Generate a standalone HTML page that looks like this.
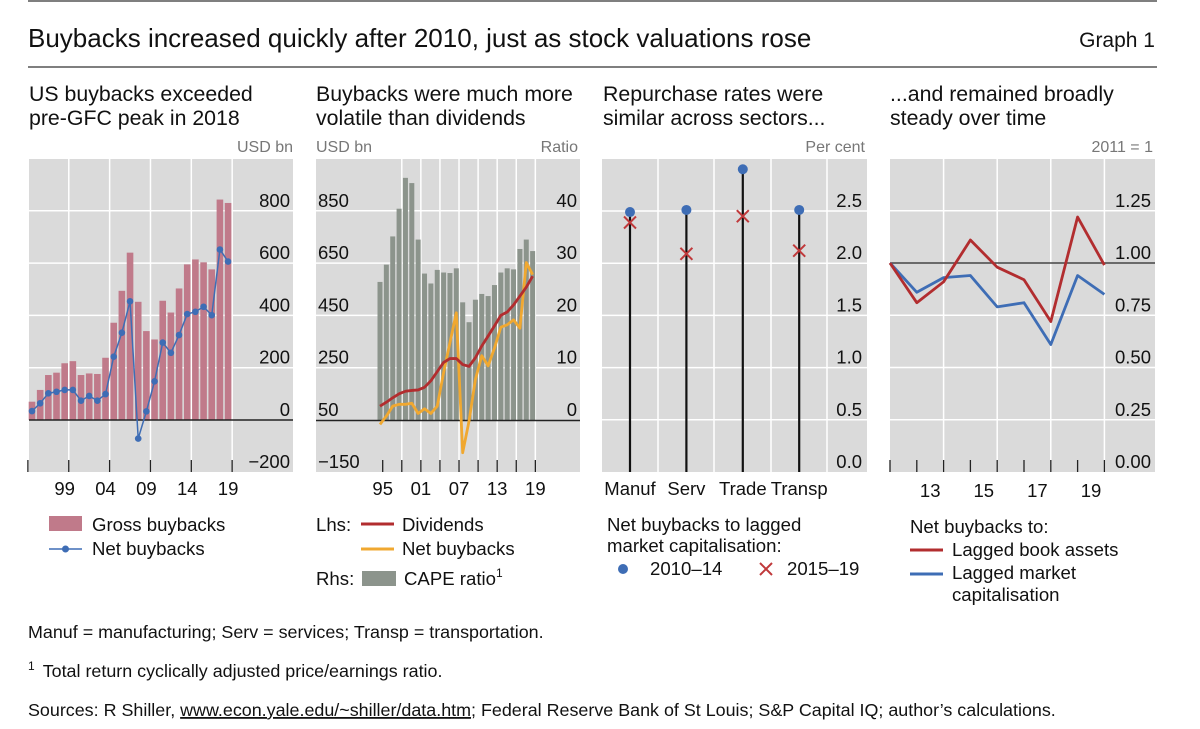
<!DOCTYPE html>
<html><head><meta charset="utf-8"><style>
body{margin:0;background:#fff;}
svg{display:block;font-family:"Liberation Sans",sans-serif;}
</style></head><body>
<svg id="c" width="1200" height="729" viewBox="0 0 1200 729" xmlns="http://www.w3.org/2000/svg">
<line x1="28" y1="1" x2="1157" y2="1" stroke="#555" stroke-width="1.5"/>
<text x="28" y="47" font-size="26" fill="#111">Buybacks increased quickly after 2010, just as stock valuations rose</text>
<text x="1155" y="47" font-size="21" fill="#111" text-anchor="end">Graph 1</text>
<line x1="28" y1="67" x2="1157" y2="67" stroke="#555" stroke-width="1.5"/>
<g font-size="21.3" fill="#111">
<text x="29" y="101">US buybacks exceeded</text>
<text x="29" y="125">pre-GFC peak in 2018</text>
<text x="316" y="101">Buybacks were much more</text>
<text x="316" y="125">volatile than dividends</text>
<text x="603" y="101">Repurchase rates were</text>
<text x="603" y="125">similar across sectors...</text>
<text x="890" y="101">...and remained broadly</text>
<text x="890" y="125">steady over time</text>
</g>
<g font-size="16" fill="#777">
<text x="293" y="152" text-anchor="end">USD bn</text>
<text x="316" y="152">USD bn</text>
<text x="578" y="152" text-anchor="end">Ratio</text>
<text x="865" y="152" text-anchor="end">Per cent</text>
<text x="1153" y="152" text-anchor="end">2011 = 1</text>
</g>
<g id="p1"></g><g id="p2"></g><g id="p3"></g><g id="p4"></g>
<g font-size="18.6" fill="#111">
<rect x="49" y="516" width="33" height="15" fill="#c07a8a"/>
<text x="92" y="531">Gross buybacks</text>
<line x1="49" y1="549" x2="82" y2="549" stroke="#3e6db5" stroke-width="1.5"/>
<circle cx="65.5" cy="549" r="3.5" fill="#3e6db5"/>
<text x="92" y="555">Net buybacks</text>
<text x="316" y="531">Lhs:</text>
<line x1="361" y1="524" x2="394" y2="524" stroke="#b22d2f" stroke-width="3"/>
<text x="402" y="531">Dividends</text>
<line x1="361" y1="549" x2="394" y2="549" stroke="#f0a830" stroke-width="3"/>
<text x="402" y="555">Net buybacks</text>
<text x="316" y="585">Rhs:</text>
<rect x="362" y="571" width="34" height="15" fill="#8c948c"/>
<text x="404" y="585">CAPE ratio<tspan font-size="12" dy="-8">1</tspan></text>
<text x="607" y="531">Net buybacks to lagged</text>
<text x="607" y="552">market capitalisation:</text>
<circle cx="623" cy="569" r="5" fill="#3e6db5"/>
<text x="650" y="575">2010–14</text>
<path d="M760 563 L772 575 M772 563 L760 575" stroke="#c0393b" stroke-width="2"/>
<text x="787" y="575">2015–19</text>
<text x="910" y="533">Net buybacks to:</text>
<line x1="910" y1="550" x2="943" y2="550" stroke="#b22d2f" stroke-width="3"/>
<text x="952" y="556">Lagged book assets</text>
<line x1="910" y1="574" x2="943" y2="574" stroke="#3e6db5" stroke-width="3"/>
<text x="952" y="579">Lagged market</text>
<text x="952" y="601">capitalisation</text>
</g>
<g font-size="17.9" fill="#111">
<text x="28" y="638">Manuf = manufacturing; Serv = services; Transp = transportation.</text>
<text x="28" y="677"><tspan font-size="12" dy="-7">1</tspan><tspan dy="7" dx="8">Total return cyclically adjusted price/earnings ratio.</tspan></text>
<text x="28" y="716">Sources: R Shiller, <tspan text-decoration="underline">www.econ.yale.edu/~shiller/data.htm</tspan>; Federal Reserve Bank of St Louis; S&amp;P Capital IQ; author’s calculations.</text>
</g>
</svg>
<script>
// Panel 1 data
const p1Years = [1995,1996,1997,1998,1999,2000,2001,2002,2003,2004,2005,2006,2007,2008,2009,2010,2011,2012,2013,2014,2015,2016,2017,2018,2019];
const p1Gross = [70,115,172,181,217,225,172,178,176,238,372,494,640,452,340,308,456,411,503,595,614,603,576,843,830];
const p1Net = [34,64,102,108,115,115,74,92,74,99,242,334,454,-71,33,148,296,257,325,405,414,433,401,652,606];
const p1Ticks = [-200,0,200,400,600,800];
const p1TickLabels = ["−200","0","200","400","600","800"];
const p1XLabels = ["99","04","09","14","19"];
const p1XLabelYears = [1999,2004,2009,2014,2019];
// Panel 2 data
const p2Years = p1Years;
const p2Cape = [26.4,29.7,35.1,40.4,46.3,45.3,34.5,28.0,26.1,28.7,28.2,28.1,29.0,22.5,18.7,23.0,24.1,23.7,25.8,28.2,29.0,28.8,32.7,34.5,32.3];
const p2Div = [103,118,135,150,160,163,165,175,200,235,270,285,285,262,255,288,333,371,410,450,463,490,524,558,600];
const p2Net = [33,65,103,110,110,114,75,93,75,103,231,346,460,-75,46,205,296,257,325,405,414,433,401,652,606];
const p2LeftTicks = [-150,50,250,450,650,850];
const p2LeftLabels = ["−150","50","250","450","650","850"];
const p2RightTicks = [0,10,20,30,40];
const p2XLabels = ["95","01","07","13","19"];
const p2XLabelYears = [1995,2001,2007,2013,2019];
// Panel 3 data
const p3Sectors = ["Manuf","Serv","Trade","Transp"];
const p3Early = [2.49,2.51,2.90,2.51];
const p3Late = [2.39,2.09,2.45,2.12];
const p3Ticks = [0,0.5,1.0,1.5,2.0,2.5];
// Panel 4 data
const p4Years = [2011,2012,2013,2014,2015,2016,2017,2018,2019];
const p4Book = [1.00,0.81,0.91,1.11,0.98,0.92,0.72,1.22,0.99];
const p4Market = [1.00,0.86,0.93,0.94,0.79,0.81,0.61,0.94,0.85];
const p4Ticks = [0,0.25,0.5,0.75,1.0,1.25];
const p4XLabels = ["13","15","17","19"];
const p4XLabelYears = [2013,2015,2017,2019];

const NS="http://www.w3.org/2000/svg";
function mk(parent,tag,attrs,text){const e=document.createElementNS(NS,tag);for(const k in attrs)e.setAttribute(k,attrs[k]);if(text!==undefined)e.textContent=text;parent.appendChild(e);return e;}
const TOP=159,BOT=472,FS=18.5;
function bg(g,x0,x1,name){const r=mk(g,'rect',{x:x0,y:TOP,width:x1-x0,height:BOT-TOP,fill:'#dadada'});}
function hgrid(g,x0,x1,y){const l=mk(g,'line',{x1:x0,x2:x1,y1:y,y2:y,stroke:'#fff','stroke-width':1.5});}
function vgrid(g,x){const l=mk(g,'line',{x1:x,x2:x,y1:TOP,y2:BOT,stroke:'#fff','stroke-width':1.5});}
function label(g,x,y,txt,anchor,name){const t=mk(g,'text',{x:x,y:y,'font-size':FS,fill:'#111','text-anchor':anchor},txt);return t;}

// ---------- Panel 1 ----------
(function(){
const g=document.getElementById('p1');
const x0=29,x1=293;
const y=v=>420-v*52.3/200;
const xs=yr=>32+(yr-1995)*8.17;
bg(g,x0,x1,'panel1-plot-area');
p1Ticks.forEach((v,i)=>{if(v!==0&&v!==-200)hgrid(g,x0,x1,y(v));});
[1999,2004,2009,2014,2019].forEach(yr=>vgrid(g,xs(yr)+4.1));
p1Years.forEach((yr,i)=>{const top=y(p1Gross[i]);const b=mk(g,'rect',{x:xs(yr)-3.3,y:top,width:6.6,height:420-top,fill:'#c07a8a'});

});
const z=mk(g,'line',{x1:x0,x2:x1,y1:420,y2:420,stroke:'#222','stroke-width':1.5});


const pts=p1Years.map((yr,i)=>xs(yr)+','+y(p1Net[i])).join(' ');
const pl=mk(g,'polyline',{points:pts,fill:'none',stroke:'#3e6db5','stroke-width':1.5});


p1Years.forEach((yr,i)=>{const c=mk(g,'circle',{cx:xs(yr),cy:y(p1Net[i]),r:3.3,fill:'#3e6db5'});

});
for(let k=0;k<6;k++){const tx=xs(1995)-4.1+k*5*8.17;const t=mk(g,'line',{x1:tx,x2:tx,y1:460,y2:472,stroke:'#222','stroke-width':1.3});

}
p1Ticks.forEach((v,i)=>label(g,290,v===-200?468:y(v)-4,p1TickLabels[i],'end','y-tick-label'));
p1XLabels.forEach((s,i)=>label(g,xs(p1XLabelYears[i]),495,s,'middle','x-tick-label'));
})();

// ---------- Panel 2 ----------
(function(){
const g=document.getElementById('p2');
const x0=316,x1=580;
const yl=v=>420-(v-50)*52.3/200;
const yr_=v=>420-v*5.23;
const xs=yr=>380+(yr-1995)*6.36;
bg(g,x0,x1,'panel2-plot-area');
p2LeftTicks.forEach(v=>{if(v!==50&&v!==-150)hgrid(g,x0,x1,yl(v));});
for(let k=0;k<8;k++)vgrid(g,xs(1995)+2.7+(k+1)*3*6.36);
p2Years.forEach((yr,i)=>{const top=yr_(p2Cape[i]);const b=mk(g,'rect',{x:xs(yr)-2.5,y:top,width:5,height:420-top,fill:'#8c948c'});

});
const z=mk(g,'line',{x1:x0,x2:x1,y1:420.5,y2:420.5,stroke:'#222','stroke-width':1.5});


const o=mk(g,'polyline',{points:p2Years.map((yr,i)=>xs(yr)+','+yl(p2Net[i])).join(' '),fill:'none',stroke:'#f0a830','stroke-width':2.8,'stroke-linejoin':'round'});


const r=mk(g,'polyline',{points:p2Years.map((yr,i)=>xs(yr)+','+yl(p2Div[i])).join(' '),fill:'none',stroke:'#b22d2f','stroke-width':2.8,'stroke-linejoin':'round'});


for(let k=0;k<9;k++){const tx=xs(1995)+2.7+k*3*6.36;const t=mk(g,'line',{x1:tx,x2:tx,y1:460,y2:472,stroke:'#222','stroke-width':1.3});

}
p2LeftTicks.forEach((v,i)=>label(g,318,v===-150?468:yl(v)-4,p2LeftLabels[i],'start','y-left-tick-label'));
p2RightTicks.forEach(v=>label(g,577,yr_(v)-4,String(v),'end','y-right-tick-label'));
p2XLabels.forEach((s,i)=>label(g,xs(p2XLabelYears[i])+2.7,495,s,'middle','x-tick-label'));
})();

// ---------- Panel 3 ----------
(function(){
const g=document.getElementById('p3');
const x0=602,x1=867;
const y=v=>472-v*104.4;
const xs=i=>630+i*56.4;
bg(g,x0,x1,'panel3-plot-area');
p3Ticks.forEach(v=>{if(v!==0)hgrid(g,x0,x1,y(v));});
[658,714,771,827].forEach(x=>vgrid(g,x));
p3Sectors.forEach((s,i)=>{
const st=mk(g,'line',{x1:xs(i),x2:xs(i),y1:472,y2:y(p3Early[i]),stroke:'#111','stroke-width':2.2});


const c=mk(g,'circle',{cx:xs(i),cy:y(p3Early[i]),r:5,fill:'#3e6db5'});


const cy=y(p3Late[i]),cx=xs(i);
const x=mk(g,'path',{d:`M${cx-6} ${cy-6} L${cx+6} ${cy+6} M${cx+6} ${cy-6} L${cx-6} ${cy+6}`,stroke:'#c0393b','stroke-width':2});


label(g,xs(i),495,s,'middle','category-label');
});
p3Ticks.forEach(v=>label(g,862,v===0?468:y(v)-4,v.toFixed(1),'end','y-tick-label'));
})();

// ---------- Panel 4 ----------
(function(){
const g=document.getElementById('p4');
const x0=890,x1=1155;
const y=v=>472-v*209;
const xs=yr=>890+(yr-2011)*26.8;
bg(g,x0,x1,'panel4-plot-area');
p4Ticks.forEach(v=>{if(v!==0&&v!==1)hgrid(g,x0,x1,y(v));});
[2013,2015,2017,2019].forEach(yr=>vgrid(g,xs(yr)));
const ref=mk(g,'line',{x1:x0,x2:x1,y1:y(1),y2:y(1),stroke:'#444','stroke-width':1.5});


const b=mk(g,'polyline',{points:p4Years.map((yr,i)=>xs(yr)+','+y(p4Market[i])).join(' '),fill:'none',stroke:'#3e6db5','stroke-width':2.8,'stroke-linejoin':'round'});


const r=mk(g,'polyline',{points:p4Years.map((yr,i)=>xs(yr)+','+y(p4Book[i])).join(' '),fill:'none',stroke:'#b22d2f','stroke-width':2.8,'stroke-linejoin':'round'});


p4Years.forEach(yr=>{const t=mk(g,'line',{x1:xs(yr),x2:xs(yr),y1:460,y2:472,stroke:'#222','stroke-width':1.3});

});
p4Ticks.forEach(v=>label(g,1151,v===0?468:y(v)-4,v.toFixed(2),'end','y-tick-label'));
p4XLabels.forEach((s,i)=>label(g,xs(p4XLabelYears[i])-13.4,497,s,'middle','x-tick-label'));
})();
</script>
</body></html>
